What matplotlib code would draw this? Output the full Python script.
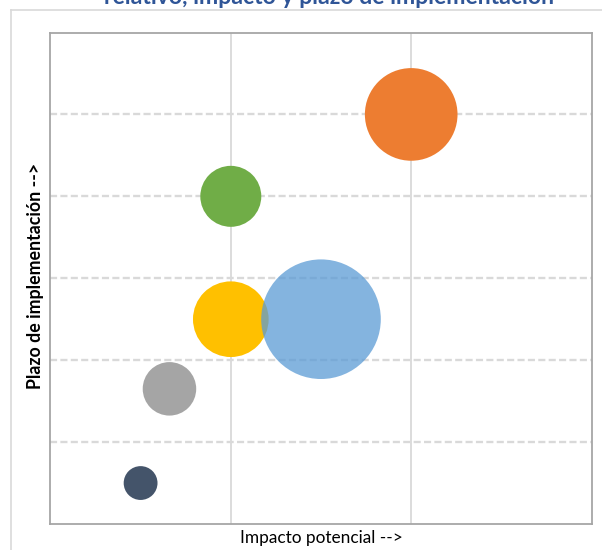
import matplotlib
matplotlib.use("Agg")
import matplotlib.pyplot as plt
from matplotlib.lines import Line2D
import numpy as np

# Data
impacto = [0.5, 0.66, 1.0, 1.5, 1.0, 2.0]
plazo = [0.5, 1.65, 2.5, 2.5, 4.0, 5.0]
tamano = [2, 5, 10, 25, 6.5, 15]
colores = ["#44546A", "#A5A5A5", "#FFC000", "#5B9BD5", "#70AD47", "#ED7D31"]
alphas = [1, 1, 1, 0.75, 1, 1]
titulo = "relativo, impacto y plazo de implementación"
xlabel = "Impacto potencial -->"
ylabel = "Plazo de implementación -->"

W, H, DPI = 602, 550, 100
fig = plt.figure(figsize=(W / DPI, H / DPI), dpi=DPI)
fam = ["Lato", "DejaVu Sans"]

L, R, T, B = 50.4, 591.6, 32.5, 524.0
ax = fig.add_axes([L / W, 1 - B / H, (R - L) / W, (B - T) / H])
ax.set_xlim(0, 3)
ax.set_ylim(0, 6)
ax.set_xticks([])
ax.set_yticks([])
for s in ax.spines.values():
    s.set_color("#A6A6A6")
    s.set_linewidth(1.3)

grid_c = "#D9D9D9"
for xv in [1, 2]:
    ax.axvline(xv, color=grid_c, lw=1.3, zorder=0)
for yv in [1, 2, 3, 4, 5]:
    ax.axhline(yv, color=grid_c, lw=1.7, ls=(0, (3.0, 1.4)), zorder=0)

# bubble sizes: largest radius ~59.8 px
rmax_px = 59.8
smax = (2 * rmax_px * 72 / DPI) ** 2
mx = max(tamano)
for x, y, t, c, a in zip(impacto, plazo, tamano, colores, alphas):
    ax.scatter([x], [y], s=smax * t / mx, color=c, alpha=a, edgecolors="none", zorder=3)

# outer frame
fig.add_artist(Line2D([10.5 / W, 1], [1 - 9.5 / H, 1 - 9.5 / H], transform=fig.transFigure, color="#D9D9D9", lw=1.2))
fig.add_artist(Line2D([10.5 / W, 10.5 / W], [0, 1 - 9.5 / H], transform=fig.transFigure, color="#D9D9D9", lw=1.2))

fig.canvas.draw()
r = fig.canvas.get_renderer()

def fit(txt, target_w, **kw):
    fs = 12
    t = fig.text(0, 0, txt, fontsize=fs, **kw)
    bb = t.get_window_extent(r)
    w = bb.width if kw.get("rotation", 0) == 0 else bb.height
    t.remove()
    return fs * target_w / w

fs_t = fit(titulo, 448, family=fam, fontweight="bold")
fig.text(329 / W, 1 - 3.5 / H, titulo, fontsize=fs_t, family=fam, fontweight="bold",
         color="#2F5597", ha="center", va="baseline")

fs_x = fit(xlabel, 162, family=fam)
fig.text(321 / W, 1 - 538 / H, xlabel, fontsize=fs_x, family=fam, color="#000000", ha="center", va="center")

fs_y = fit(ylabel, 225, family=fam, fontweight="bold", rotation=90)
fig.text(35.5 / W, 1 - 276 / H, ylabel, fontsize=fs_y, family=fam, fontweight="bold", rotation=90,
         color="#000000", ha="center", va="center")

fig.savefig("out.png", dpi=DPI)
